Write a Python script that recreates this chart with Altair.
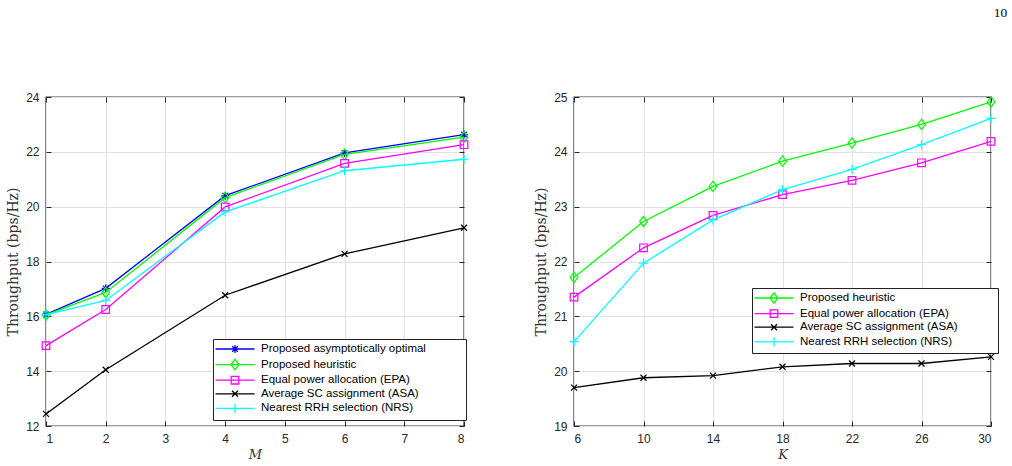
import altair as alt
import pandas as pd

# ---- data: throughput vs. number of RRHs (M) ----
m_values = [1, 2, 4, 6, 8]
m_opt = [16.07, 17.02, 20.40, 21.96, 22.63]
m_heur = [16.05, 16.87, 20.33, 21.91, 22.54]
m_epa = [14.93, 16.25, 19.99, 21.58, 22.26]
m_asa = [12.44, 14.05, 16.77, 18.28, 19.23]
m_nrs = [16.06, 16.58, 19.81, 21.31, 21.73]

# ---- data: throughput vs. number of users (K) ----
k_values = [6, 10, 14, 18, 22, 26, 30]
k_heur = [21.71, 22.73, 23.37, 23.83, 24.16, 24.50, 24.91]
k_epa = [21.35, 22.25, 22.84, 23.22, 23.48, 23.80, 24.19]
k_nrs = [20.54, 21.97, 22.76, 23.31, 23.68, 24.13, 24.61]
k_asa = [19.70, 19.88, 19.92, 20.08, 20.14, 20.14, 20.26]

left_names = ["Proposed asymptotically optimal", "Proposed heuristic",
              "Equal power allocation (EPA)", "\u00a0Average SC assignment (ASA)",
              "Nearest RRH selection (NRS)"]
right_names = ["Proposed heuristic", "Equal power allocation (EPA)",
               "Average SC assignment (ASA)", "Nearest RRH selection (NRS)"]

m_ticks = [1, 2, 3, 4, 5, 6, 7, 8]
m_yticks = [12, 14, 16, 18, 20, 22, 24]
k_ticks = [6, 10, 14, 18, 22, 26, 30]
k_yticks = [19, 20, 21, 22, 23, 24, 25]

# ---- styling ----
SANS = "Liberation Sans"
SERIF = "DejaVu Serif"
AX = "#262626"
GRID = "#e2e2e2"
W_L, W_R, H = 418, 417, 329

# marker outlines in a unit box, with their on-plot half size in pixels
MARKERS = {
    "star": ("M-1,0L1,0M0,-1L0,1M-0.7,-0.7L0.7,0.7M-0.7,0.7L0.7,-0.7", 4.0),
    "diamond": ("M0,-1L0.75,0L0,1L-0.75,0Z", 5.2),
    "square": ("M-1,-1L1,-1L1,1L-1,1Z", 3.8),
    "x": ("M-1,-1L1,1M-1,1L1,-1", 3.0),
    "plus": ("M-1,0L1,0M0,-1L0,1", 4.6),
}
STYLE = {
    "blue": ("#0000ff", "star"),
    "green": ("#00ff00", "diamond"),
    "magenta": ("#ff00ff", "square"),
    "black": ("#000000", "x"),
    "cyan": ("#00ffff", "plus"),
}

LEG_SIZE = 100            # legend symbol area -> unit = 5 px
LEG_UNIT = (LEG_SIZE ** 0.5) / 2
LEG_HALF_LINE = 19.5
LEG_TAIL = "\u2800" * 4   # blank cells that leave room after the labels


def scaled_path(path, k):
    """Scale the numbers of a simple M/L/Z path by k."""
    out, num = "", ""
    for ch in path + " ":
        if ch.isdigit() or ch == "." or (ch == "-" and not num):
            num += ch
        else:
            if num:
                out += str(round(float(num) * k, 3))
                num = ""
            if ch.strip():
                out += ch
    return out


def legend_path(marker):
    path, half = MARKERS[marker]
    k = half / LEG_UNIT
    line = LEG_HALF_LINE / LEG_UNIT
    return f"M{-line:.2f},0L{line:.2f},0" + scaled_path(path, k)


def panel(xvals, series, names, colors, xdom, ydom, xticks, yticks, xtitle,
          width, leg_x, leg_y):
    rows = []
    for name, vals in zip(names, series):
        for xv, yv in zip(xvals, vals):
            rows.append({"x": xv, "y": yv, "series": name})
    df = pd.DataFrame(rows)

    xs = alt.Scale(domain=xdom, nice=False, zero=False)
    ys = alt.Scale(domain=ydom, nice=False, zero=False)

    def enc(xaxis=None, yaxis=None):
        return dict(x=alt.X("x:Q", scale=xs, axis=xaxis),
                    y=alt.Y("y:Q", scale=ys, axis=yaxis))

    base = alt.Chart(df)
    layers = []

    # frame axes: labels + grid, then short inward ticks on all four sides
    main_x = alt.Axis(orient="bottom", values=xticks, format="d", grid=True,
                      gridColor=GRID, gridWidth=1, ticks=False, domain=False,
                      labelFont=SANS, labelFontSize=12, labelColor=AX,
                      labelPadding=7, title=xtitle, titleFont=SERIF,
                      titleFontStyle="italic", titleFontWeight="normal",
                      titleFontSize=13, titleColor="#333333", titlePadding=4)
    main_y = alt.Axis(orient="left", values=yticks, format="d", grid=True,
                      gridColor=GRID, gridWidth=1, ticks=False, domain=False,
                      labelFont=SANS, labelFontSize=12, labelColor=AX,
                      labelPadding=7, title="Throughput (bps/Hz)",
                      titleFont=SERIF, titleFontWeight="normal",
                      titleFontSize=14, titleColor="#333333", titlePadding=5)
    layers.append(base.mark_point(opacity=0).encode(**enc(main_x, main_y)))

    def tick_axis(orient, vals, off):
        return alt.Axis(orient=orient, values=vals, offset=off, labels=False,
                        grid=False, domain=False, ticks=True, tickSize=5,
                        tickColor=AX, tickWidth=1, title=None)

    layers.append(base.mark_point(opacity=0).encode(
        **enc(tick_axis("top", xticks, -H), tick_axis("right", yticks, -width))))
    layers.append(base.mark_point(opacity=0).encode(
        **enc(tick_axis("bottom", xticks, -H), tick_axis("left", yticks, -width))))

    # one line with its markers per series, drawn in legend order
    for name, cname in zip(names, colors):
        color, marker = STYLE[cname]
        path, half = MARKERS[marker]
        sub = base.transform_filter(alt.datum.series == name)
        layers.append(sub.mark_line(color=color, strokeWidth=1.3).encode(**enc()))
        layers.append(sub.mark_point(shape=path, filled=False, color=color,
                                     size=(2 * half) ** 2, strokeWidth=1.2,
                                     opacity=1).encode(**enc()))

    # legend carrier: line-with-marker symbols
    leg = alt.Legend(title=None, orient="none", legendX=leg_x, legendY=leg_y,
                     symbolSize=LEG_SIZE, symbolStrokeWidth=1.3,
                     symbolOpacity=1, symbolOffset=12, labelOffset=20,
                     labelFont=SANS, labelFontSize=11.5, labelColor="#000000",
                     labelExpr=f"datum.label + '{LEG_TAIL}'",
                     rowPadding=0.6, padding=4, strokeColor="#222222",
                     fillColor="#ffffff", labelLimit=400)
    layers.append(base.mark_point(opacity=0, filled=False, size=1).encode(
        **enc(),
        color=alt.Color("series:N", legend=leg,
                        scale=alt.Scale(domain=names,
                                        range=[STYLE[c][0] for c in colors])),
        shape=alt.Shape("series:N", legend=leg,
                        scale=alt.Scale(domain=names,
                                        range=[legend_path(STYLE[c][1]) for c in colors])),
    ))

    return alt.layer(*layers).resolve_axis(x="independent", y="independent").properties(
        width=width, height=H)


left = panel(m_values, [m_opt, m_heur, m_epa, m_asa, m_nrs], left_names,
             ["blue", "green", "magenta", "black", "cyan"],
             [1, 8], [12, 24], m_ticks, m_yticks, "M", W_L, 167, 242)
right = panel(k_values, [k_heur, k_epa, k_asa, k_nrs], right_names,
              ["green", "magenta", "black", "cyan"],
              [6, 30], [19, 25], k_ticks, k_yticks, "K", W_R, 178, 191)

chart = alt.hconcat(left, right, spacing=61).resolve_scale(
    color="independent", shape="independent"
).resolve_legend(color="independent", shape="independent").properties(
    title=alt.TitleParams("10", anchor="end", font="Liberation Serif",
                          fontSize=13.5, fontWeight="normal", color="#000000",
                          offset=71, dx=8),
    padding={"left": 5, "top": 5, "right": 2, "bottom": 2},
    background="#ffffff",
).configure_view(stroke="#3a3a3a", strokeWidth=1.4)

chart.save("out.html", embed_options={"renderer": "svg", "actions": False})
